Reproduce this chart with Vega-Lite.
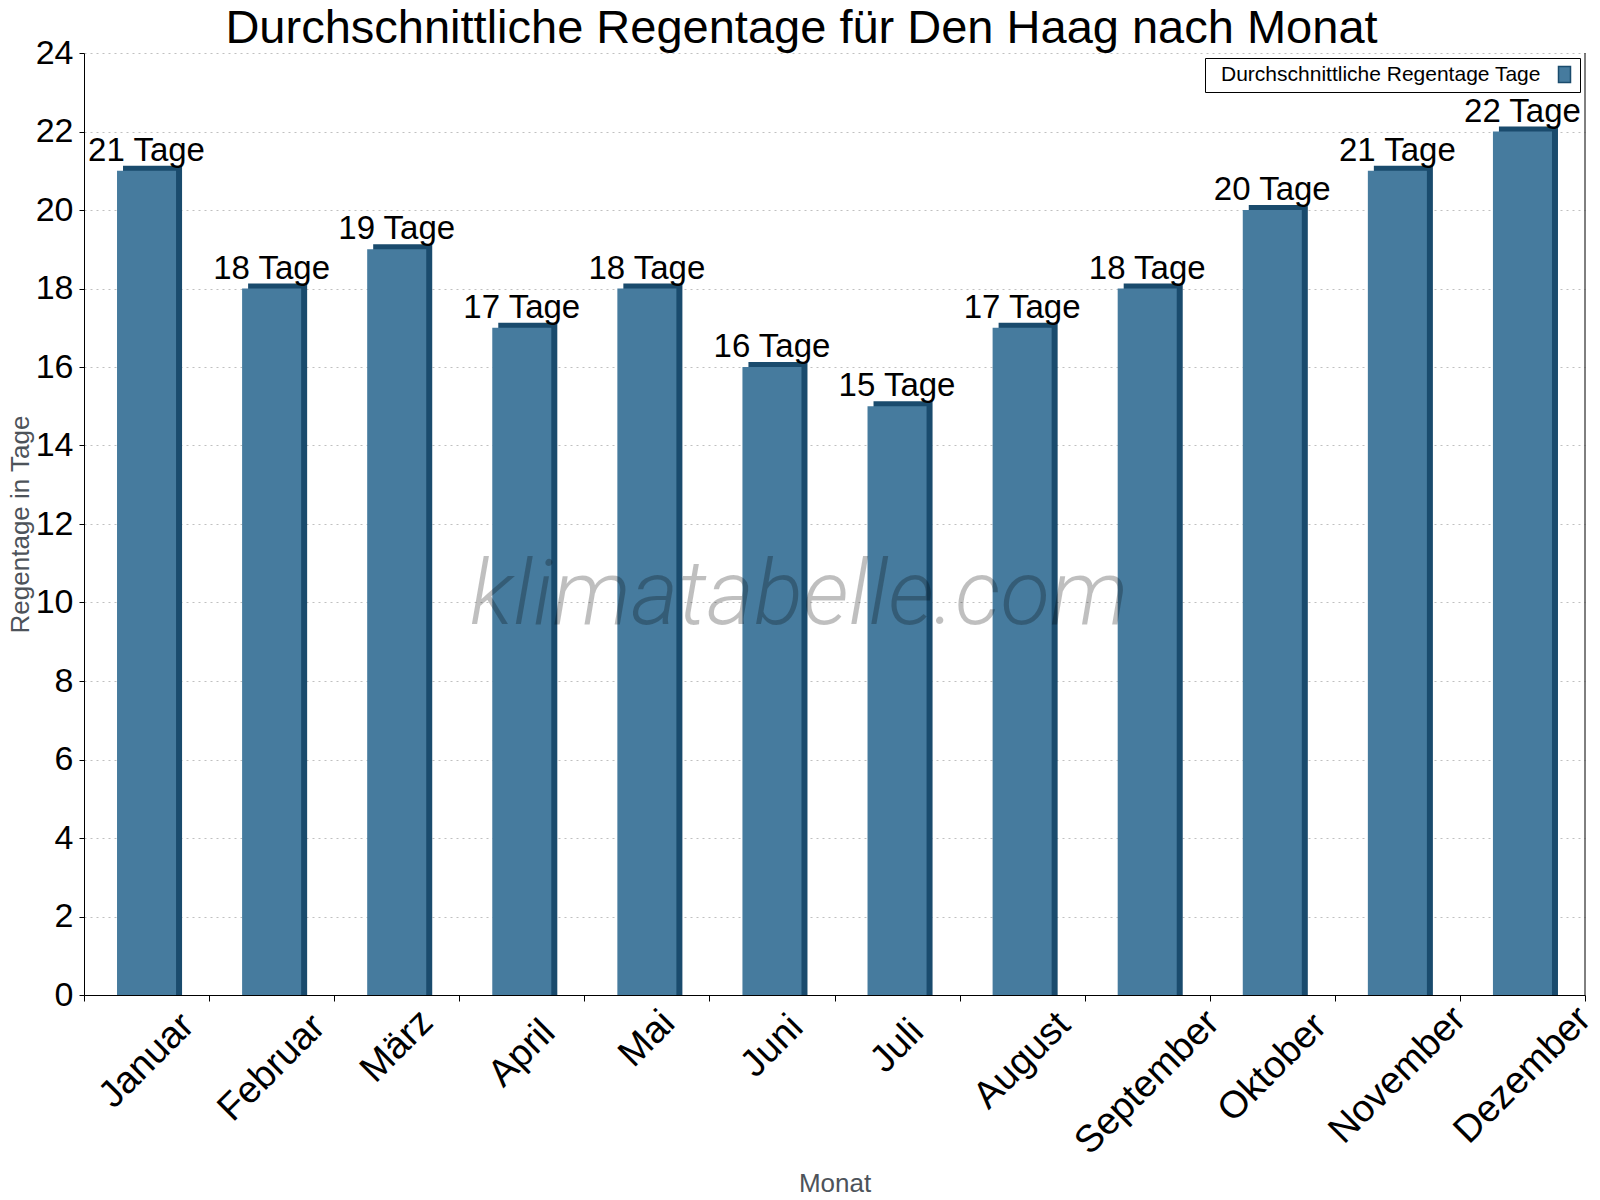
{
  "$schema": "https://vega.github.io/schema/vega-lite/v6.json",
  "autosize": {"type": "none"},
  "width": 1501,
  "height": 942,
  "padding": {"left": 84, "top": 53, "right": 15, "bottom": 205},
  "background": "white",
  "title": {
    "text": "Durchschnittliche Regentage für Den Haag nach Monat",
    "font": "Liberation Sans",
    "fontSize": 47,
    "fontWeight": "normal",
    "color": "black",
    "anchor": "middle",
    "baseline": "alphabetic",
    "dx": -33,
    "offset": -54
  },
  "config": {
    "font": "Liberation Sans",
    "view": {"stroke": null},
    "axis": {
      "labelFont": "Liberation Sans",
      "titleFont": "Liberation Sans",
      "labelColor": "black",
      "domainColor": "black",
      "tickColor": "black",
      "titleFontWeight": "normal",
      "titleColor": "#4d535a"
    }
  },
  "datasets": {
    "rain": [
      {"month": "Januar", "value": 21, "label": "21 Tage", "series": "Durchschnittliche Regentage Tage"},
      {"month": "Februar", "value": 18, "label": "18 Tage", "series": "Durchschnittliche Regentage Tage"},
      {"month": "März", "value": 19, "label": "19 Tage", "series": "Durchschnittliche Regentage Tage"},
      {"month": "April", "value": 17, "label": "17 Tage", "series": "Durchschnittliche Regentage Tage"},
      {"month": "Mai", "value": 18, "label": "18 Tage", "series": "Durchschnittliche Regentage Tage"},
      {"month": "Juni", "value": 16, "label": "16 Tage", "series": "Durchschnittliche Regentage Tage"},
      {"month": "Juli", "value": 15, "label": "15 Tage", "series": "Durchschnittliche Regentage Tage"},
      {"month": "August", "value": 17, "label": "17 Tage", "series": "Durchschnittliche Regentage Tage"},
      {"month": "September", "value": 18, "label": "18 Tage", "series": "Durchschnittliche Regentage Tage"},
      {"month": "Oktober", "value": 20, "label": "20 Tage", "series": "Durchschnittliche Regentage Tage"},
      {"month": "November", "value": 21, "label": "21 Tage", "series": "Durchschnittliche Regentage Tage"},
      {"month": "Dezember", "value": 22, "label": "22 Tage", "series": "Durchschnittliche Regentage Tage"}
    ]
  },
  "data": {"name": "rain"},
  "encoding": {
    "x": {
      "field": "month",
      "type": "nominal",
      "sort": null,
      "scale": {"paddingInner": 0, "paddingOuter": 0},
      "axis": {
        "title": "Monat",
        "titleFontSize": 26,
        "titlePadding": 9,
        "labelFontSize": 38,
        "labelLimit": 0,
        "labelAngle": -45,
        "labelAlign": "center",
        "labelBaseline": "middle",
        "labelPadding": {"expr": "16 + 7.25 * length(datum.label)"},
        "labelOverlap": false,
        "labelBound": false,
        "labelFlush": false,
        "tickBand": "extent",
        "tickSize": 6,
        "grid": false
      }
    },
    "y": {
      "field": "value",
      "type": "quantitative",
      "scale": {"domain": [0, 24], "nice": false},
      "axis": {
        "title": "Regentage in Tage",
        "titleFontSize": 26,
        "titlePadding": 2,
        "labelFontSize": 34,
        "labelPadding": 6,
        "tickSize": 5,
        "values": [0, 2, 4, 6, 8, 10, 12, 14, 16, 18, 20, 22, 24],
        "grid": true,
        "gridColor": "#c0c0c0",
        "gridDash": [2, 4]
      }
    }
  },
  "layer": [
    {
      "mark": {"type": "bar", "color": "#1a4b6d", "width": {"band": 0.472}, "xOffset": 6, "yOffset": -5, "y2Offset": 0},
      "encoding": {"y2": {"datum": 0}}
    },
    {
      "mark": {"type": "bar", "width": {"band": 0.472}},
      "encoding": {
        "color": {
          "field": "series",
          "type": "nominal",
          "scale": {"range": ["#467b9e"]},
          "legend": {
            "title": null,
            "orient": "top-right",
            "offset": 5,
            "padding": 6,
            "strokeColor": "black",
            "fillColor": "white",
            "labelFont": "Liberation Sans",
            "labelFontSize": 21,
            "labelColor": "black",
            "labelLimit": 0,
            "labelOffset": -354,
            "symbolType": "M-0.75,-1H0.75V1H-0.75Z",
            "symbolSize": 256,
            "symbolOffset": 343,
            "symbolStrokeColor": "#1a4b6d",
            "symbolStrokeWidth": 1.5,
            "symbolOpacity": 1
          }
        }
      }
    },
    {
      "mark": {"type": "text", "font": "Liberation Sans", "fontSize": 33, "color": "black", "baseline": "alphabetic", "align": "center", "dy": -10},
      "encoding": {"text": {"field": "label"}}
    },
    {
      "transform": [{"filter": "datum.month === 'Juni'"}],
      "mark": {"type": "text", "text": "klimatabelle.com", "font": "Roboto", "fontSize": 91, "fontWeight": 300, "fontStyle": "italic", "fill": "#000000", "fillOpacity": 0.25, "align": "center", "baseline": "alphabetic", "dx": 27, "dy": 21},
      "encoding": {
        "y": {"datum": 10, "type": "quantitative"}
      }
    },
    {
      "transform": [{"filter": "datum.month === 'Dezember'"}],
      "mark": {"type": "rule", "color": "black", "strokeWidth": 1},
      "encoding": {
        "x": {"field": "month", "type": "nominal", "sort": null, "bandPosition": 1},
        "y": null
      }
    }
  ]
}
